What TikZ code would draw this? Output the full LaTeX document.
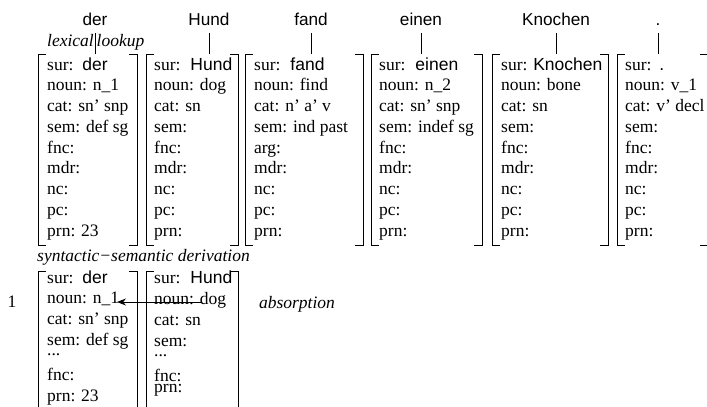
\documentclass[tikz,border=0pt]{standalone}
\usepackage{fontspec}
\setmainfont{Liberation Serif}
\newfontfamily\wordfont{Liberation Sans}
\usetikzlibrary{arrows.meta}

\newcommand{\wf}[1]{{\wordfont #1}}
%% four corner brackets: left, right, top, bottom
\newcommand{\cornerbox}[4]{%
  \draw[brk] (#1+8,#3) -- (#1,#3) -- (#1,#4) -- (#1+8,#4);
  \draw[brk] (#2-8,#3) -- (#2,#3) -- (#2,#4) -- (#2-8,#4);}

\begin{document}
\begin{tikzpicture}
[x=1pt,y=-1pt,
 worddecorate/.style={font=\fontsize{17.2}{20}\wordfont,inner sep=0pt,outer sep=8pt,anchor=base},
 attrdecorate/.style={font=\fontsize{17.5}{20.75}\selectfont,inner sep=0pt,align=left,anchor=base west},
 labeldecorate/.style={font=\fontsize{17.5}{20}\selectfont\itshape,inner sep=0pt},
 brk/.style={line width=0.9pt},
 linedecorate/.style={-,line width=0.9pt}]
\useasboundingbox (0,0) rectangle (707,407);
%% surface words
\node (w1) at (95,25) [worddecorate] {der};
\node (w2) at (209,25) [worddecorate] {Hund};
\node (w3) at (311,25) [worddecorate] {fand};
\node (w4) at (421,25) [worddecorate] {einen};
\node (w5) at (556,25) [worddecorate] {Knochen};
\node (w6) at (658,25) [worddecorate] {.};
\node (lex) at (94,46) [labeldecorate,anchor=base east] {lexical};
\node (look) at (96.5,46) [labeldecorate,anchor=base west] {lookup};
%% stems down to the proplets
\path
(w1.south) edge[linedecorate] (w1.south |- 0,54)
(w2.south) edge[linedecorate] (w2.south |- 0,54)
(w3.south) edge[linedecorate] (w3.south |- 0,54)
(w4.south) edge[linedecorate] (w4.south |- 0,54)
(w5.south) edge[linedecorate] (w5.south |- 0,54)
(w6.south) edge[linedecorate] (w6.south |- 0,54);
%% lexical proplets (placed by the baseline of their last line)
\cornerbox{38}{137}{54}{245}
\cornerbox{146}{238}{54}{245}
\cornerbox{245}{363}{54}{245}
\cornerbox{371}{482}{54}{245}
\cornerbox{492}{608}{54}{245}
\cornerbox{617}{708}{54}{245}
\node (p1) at (47,236) [attrdecorate] {sur:\hspace{9pt}\wf{der}\\ noun: n\_1\\ cat: sn' snp\\ sem: def sg\\ fnc:\\ mdr:\\ nc:\\ pc:\\ prn: 23};
\node (p2) at (154,236) [attrdecorate] {sur:\hspace{10pt}\wf{Hund}\\ noun: dog\\ cat: sn\\ sem:\\ fnc:\\ mdr:\\ nc:\\ pc:\\ prn:};
\node (p3) at (254,236) [attrdecorate] {sur:\hspace{10pt}\wf{fand}\\ noun: find\\ cat: n' a' v\\ sem: ind past\\ arg:\\ mdr:\\ nc:\\ pc:\\ prn:};
\node (p4) at (379,236) [attrdecorate] {sur:\hspace{10pt}\wf{einen}\\ noun: n\_2\\ cat: sn' snp\\ sem: indef sg\\ fnc:\\ mdr:\\ nc:\\ pc:\\ prn:};
\node (p5) at (501,236) [attrdecorate] {sur: \wf{Knochen}\\ noun: bone\\ cat: sn\\ sem:\\ fnc:\\ mdr:\\ nc:\\ pc:\\ prn:};
\node (p6) at (625,236) [attrdecorate] {sur:\hspace{8pt}\wf{.}\\ noun: v\_1\\ cat: v' decl\\ sem:\\ fnc:\\ mdr:\\ nc:\\ pc:\\ prn:};
%% first derivation step
\node (syn) at (37,261) [labeldecorate,anchor=base west] {syntactic−semantic derivation};
\node (step1) at (12,307) [attrdecorate,anchor=base] {1};
\cornerbox{38}{137}{271}{430}
\cornerbox{146}{238}{271}{430}
\node (d1) at (47,401) [attrdecorate] {sur:\hspace{9pt}\wf{der}\\ noun: n\_1\\ cat: sn' snp\\ sem: def sg\\[-10.75pt] ...\\[4.25pt] fnc:\\ prn: 23};
\node (d2) at (154,392) [attrdecorate] {sur:\hspace{10pt}\wf{Hund}\\ noun: dog\\ cat: sn\\ sem:\\[-10.75pt] ...\\[4.25pt] fnc:\\[-9.75pt] prn:};
\node (abs) at (297,308) [labeldecorate,anchor=base] {absorption};
\coordinate (dog) at (201,302);
\coordinate (n1) at (117,302);
\draw[-{Stealth[length=9pt,width=7pt]},line width=0.9pt] (dog) -- (n1);
\end{tikzpicture}
\end{document}
